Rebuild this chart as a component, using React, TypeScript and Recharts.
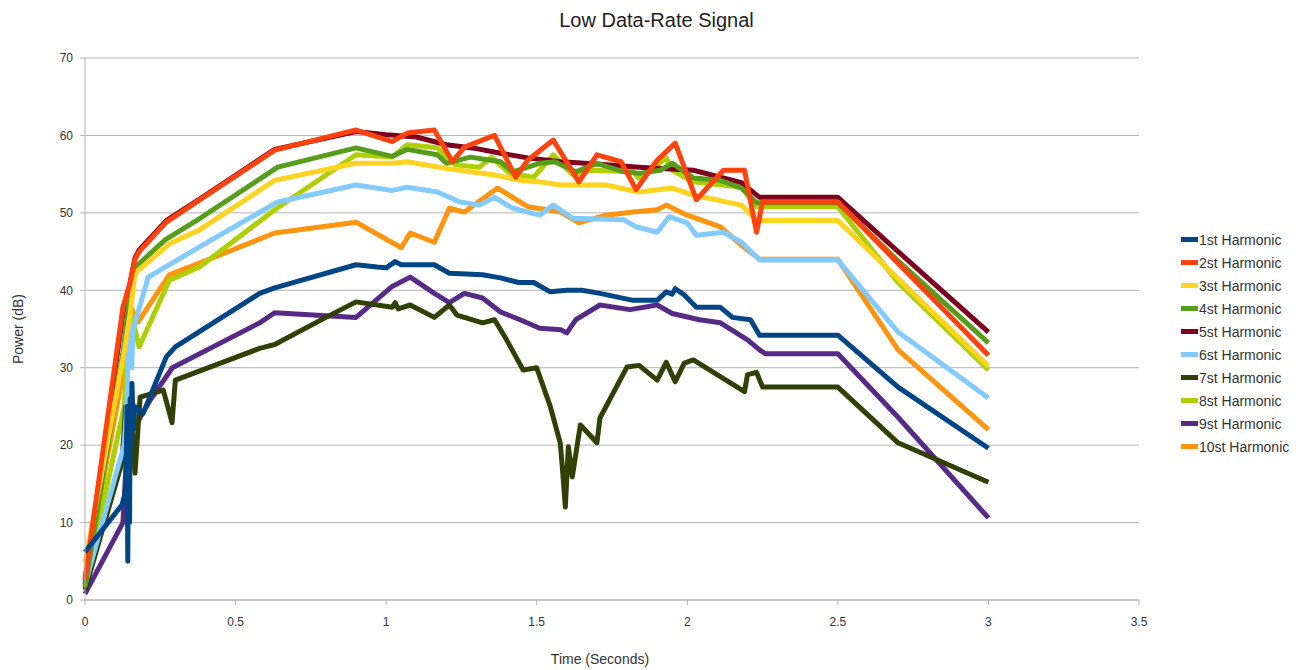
import React from 'react';
import { LineChart, Line, XAxis, YAxis, CartesianGrid, Legend } from 'recharts';

type Pt = [number, number];

// [time (s), power (dB)] samples for each harmonic
const harmonic1: Pt[] = [
  [0, 6.2], [0.123, 12.3], [0.135, 14], [0.14, 25], [0.142, 5], [0.145, 24], [0.148, 10], [0.15, 26],
  [0.153, 20], [0.156, 28], [0.16, 22], [0.165, 25], [0.193, 24.1], [0.27, 31.4], [0.3, 32.7],
  [0.58, 39.6], [0.63, 40.3], [0.9, 43.3], [0.97, 43], [1.0, 42.9], [1.03, 43.7], [1.05, 43.3],
  [1.16, 43.3], [1.21, 42.2], [1.32, 42], [1.38, 41.6], [1.44, 41], [1.49, 41], [1.545, 39.8],
  [1.6, 40], [1.65, 40], [1.71, 39.6], [1.82, 38.7], [1.9, 38.7], [1.93, 39.8], [1.95, 39.5],
  [1.96, 40.2], [1.99, 39.4], [2.03, 37.8], [2.11, 37.8], [2.15, 36.5], [2.21, 36.2], [2.24, 34.2],
  [2.5, 34.2], [2.7, 27.5], [3.0, 19.6],
];
const harmonic2: Pt[] = [
  [0, 2.6], [0.126, 37.8], [0.15, 41], [0.166, 44], [0.18, 45], [0.27, 48.8], [0.382, 51.7],
  [0.63, 58.1], [0.9, 60.7], [1.02, 59.2], [1.07, 60.3], [1.16, 60.7], [1.22, 56.6], [1.26, 58.5],
  [1.36, 60], [1.43, 54.6], [1.47, 56.8], [1.555, 59.4], [1.64, 54], [1.7, 57.5], [1.78, 56.6],
  [1.83, 53], [1.9, 56.8], [1.96, 59], [2.03, 51.7], [2.12, 55.5], [2.19, 55.5], [2.23, 47.5],
  [2.25, 51.4], [2.5, 51.4], [2.7, 43.5], [3.0, 31.6],
];
const harmonic3: Pt[] = [
  [0, 4.8], [0.13, 32], [0.15, 37], [0.166, 42.2], [0.28, 46], [0.38, 47.8], [0.63, 54.2],
  [0.9, 56.4], [1.02, 56.4], [1.07, 56.6], [1.19, 55.8], [1.36, 54.9], [1.445, 54.2], [1.51, 54],
  [1.58, 53.6], [1.73, 53.6], [1.84, 52.7], [1.95, 53.2], [2.02, 52.3], [2.18, 51], [2.23, 49],
  [2.5, 49], [2.7, 41.5], [3.0, 30.2],
];
const harmonic4: Pt[] = [
  [0, 1.7], [0.13, 33], [0.15, 40], [0.176, 43.3], [0.266, 46.5], [0.382, 49.3], [0.64, 55.9],
  [0.9, 58.4], [1.02, 57.3], [1.07, 58.2], [1.17, 57.5], [1.2, 56.4], [1.28, 57.2], [1.38, 56.6],
  [1.42, 55.3], [1.51, 56.4], [1.56, 56.6], [1.63, 55.3], [1.7, 56.4], [1.79, 55.3], [1.84, 55.1],
  [1.91, 55.5], [1.95, 56.4], [2.02, 54.5], [2.11, 54.2], [2.18, 53.2], [2.23, 51.3], [2.5, 51.3],
  [2.7, 43.8], [3.0, 33.2],
];
const harmonic5: Pt[] = [
  [0, 2], [0.126, 37], [0.15, 41], [0.166, 44.2], [0.18, 45.2], [0.27, 49], [0.382, 51.8],
  [0.63, 58.2], [0.9, 60.5], [1.0, 60.1], [1.1, 59.8], [1.2, 58.8], [1.3, 58.3], [1.38, 57.7],
  [1.47, 57.1], [1.58, 56.6], [1.7, 56.3], [1.84, 55.9], [2.02, 55.5], [2.18, 53.9], [2.24, 52],
  [2.5, 52], [2.7, 45], [3.0, 34.6],
];
const harmonic6: Pt[] = [
  [0, 2], [0.13, 20], [0.14, 25.8], [0.145, 37.5], [0.155, 30], [0.16, 35], [0.21, 41.7],
  [0.38, 45.6], [0.64, 51.4], [0.9, 53.6], [1.02, 52.9], [1.07, 53.3], [1.17, 52.7], [1.245, 51.4],
  [1.31, 51], [1.36, 52], [1.42, 50.6], [1.51, 49.7], [1.555, 51], [1.62, 49.3], [1.79, 49.1],
  [1.83, 48.2], [1.9, 47.5], [1.94, 49.5], [2.0, 48.7], [2.03, 47.1], [2.12, 47.5], [2.18, 46.2],
  [2.24, 43.9], [2.5, 43.9], [2.7, 34.6], [3.0, 26.1],
];
const harmonic7: Pt[] = [
  [0, 1.3], [0.123, 17.8], [0.135, 25], [0.145, 18], [0.15, 26], [0.166, 16.4], [0.183, 26.2],
  [0.26, 27.1], [0.289, 22.9], [0.3, 28.4], [0.58, 32.5], [0.63, 33], [0.8, 36.5], [0.9, 38.5],
  [1.02, 37.8], [1.03, 38.4], [1.04, 37.6], [1.08, 38.1], [1.16, 36.5], [1.21, 38.1], [1.235, 36.8],
  [1.32, 35.8], [1.36, 36.2], [1.4, 33.6], [1.455, 29.7], [1.5, 30], [1.545, 25], [1.578, 20.3],
  [1.585, 17.2], [1.595, 12], [1.605, 19.8], [1.618, 15.9], [1.645, 22.6], [1.7, 20.3], [1.71, 23.5],
  [1.8, 30.1], [1.84, 30.3], [1.9, 28.4], [1.93, 30.7], [1.96, 28.2], [1.99, 30.6], [2.02, 31],
  [2.19, 26.9], [2.2, 29.1], [2.23, 29.4], [2.25, 27.5], [2.5, 27.5], [2.7, 20.3], [3.0, 15.2],
];
const harmonic8: Pt[] = [
  [0, 1.5], [0.13, 25], [0.15, 37.5], [0.18, 32.7], [0.28, 41.3], [0.38, 43], [0.63, 50.4],
  [0.9, 57.5], [1.02, 57.2], [1.07, 58.8], [1.17, 58.4], [1.23, 56.2], [1.31, 55.9], [1.35, 57.2],
  [1.41, 55.1], [1.49, 54.6], [1.555, 57.5], [1.62, 54.9], [1.68, 55.5], [1.82, 55.3], [1.84, 54.5],
  [1.93, 57.1], [1.95, 55.5], [2.02, 54], [2.18, 53.3], [2.23, 50.8], [2.5, 50.8], [2.7, 41],
  [3.0, 29.7],
];
const harmonic9: Pt[] = [
  [0, 0.8], [0.126, 10], [0.14, 20], [0.15, 24], [0.16, 22], [0.216, 25.8], [0.29, 30],
  [0.58, 35.8], [0.63, 37.1], [0.9, 36.5], [1.02, 40.5], [1.08, 41.7], [1.16, 39.6], [1.21, 38.4],
  [1.26, 39.6], [1.32, 39], [1.38, 37.2], [1.445, 36.2], [1.51, 35.1], [1.58, 34.9], [1.6, 34.5],
  [1.63, 36.2], [1.71, 38.1], [1.81, 37.5], [1.9, 38.1], [1.95, 37], [2.04, 36.2], [2.11, 35.8],
  [2.2, 33.6], [2.24, 32.3], [2.26, 31.8], [2.5, 31.8], [2.7, 23.6], [3.0, 10.6],
];
const harmonic10: Pt[] = [
  [0, 3], [0.13, 30], [0.15, 38], [0.176, 35.9], [0.28, 42], [0.38, 43.5], [0.63, 47.4],
  [0.9, 48.8], [1.05, 45.5], [1.08, 47.4], [1.16, 46.2], [1.21, 50.6], [1.26, 50.1], [1.37, 53.2],
  [1.47, 50.8], [1.58, 50.1], [1.64, 48.7], [1.73, 49.7], [1.82, 50.1], [1.9, 50.4], [1.93, 51],
  [2.0, 49.7], [2.11, 48.2], [2.18, 45.8], [2.24, 44], [2.5, 44], [2.7, 32.3], [3.0, 22],
];

const seriesNames = [
  '1st Harmonic', '2st Harmonic', '3st Harmonic', '4st Harmonic', '5st Harmonic',
  '6st Harmonic', '7st Harmonic', '8st Harmonic', '9st Harmonic', '10st Harmonic',
];
const seriesColors = [
  '#004586', '#ff420e', '#ffd320', '#579d1c', '#7e0021',
  '#83caff', '#314004', '#aecf00', '#572a86', '#ff950e',
];
const xTicks = [0, 0.5, 1, 1.5, 2, 2.5, 3, 3.5];
const yTicks = [0, 10, 20, 30, 40, 50, 60, 70];

const FONT = '"Liberation Sans", Arial, sans-serif';

const series = [
  harmonic1, harmonic2, harmonic3, harmonic4, harmonic5,
  harmonic6, harmonic7, harmonic8, harmonic9, harmonic10,
].map((pts, i) => ({
  name: seriesNames[i],
  color: seriesColors[i],
  data: pts.map(([t, p]) => ({ t, p })),
}));

// later harmonics are painted first so the 1st harmonic ends up on top
const drawOrder = [...series].reverse();

const renderLegend = () => (
  <div style={{ fontFamily: FONT, fontSize: 14, color: '#333' }}>
    {series.map((s) => (
      <div key={s.name} style={{ display: 'flex', alignItems: 'center', height: 23 }}>
        <span style={{ display: 'inline-block', width: 17, height: 5, background: s.color, marginRight: 1 }} />
        <span>{s.name}</span>
      </div>
    ))}
  </div>
);

export default function App() {
  return (
    <div style={{ position: 'absolute', left: 0, top: 0, width: 1305, height: 670, background: '#fff' }}>
      <div
        style={{
          position: 'absolute', left: 4, top: 9, width: 1305, textAlign: 'center',
          fontFamily: FONT, fontSize: 20, color: '#222',
        }}
      >
        Low Data-Rate Signal
      </div>
      <LineChart width={1305} height={670} margin={{ top: 58, right: 166, bottom: 4, left: 5 }}>
        <CartesianGrid vertical={false} stroke="#b3b3b3" strokeWidth={1} />
        <XAxis
          type="number"
          dataKey="t"
          domain={[0, 3.5]}
          ticks={xTicks}
          height={66}
          tickSize={5}
          tickMargin={12}
          stroke="#b3b3b3"
          tick={{ fill: '#333', fontSize: 12, fontFamily: FONT }}
          label={{
            value: 'Time (Seconds)', position: 'insideBottom', offset: 2, dx: -12,
            style: { fill: '#333', fontSize: 14, fontFamily: FONT },
          }}
        />
        <YAxis
          type="number"
          domain={[0, 70]}
          ticks={yTicks}
          width={80}
          tickSize={5}
          tickMargin={7}
          stroke="#b3b3b3"
          tick={{ fill: '#333', fontSize: 12, fontFamily: FONT }}
          label={{
            value: 'Power (dB)', angle: -90, position: 'insideLeft', offset: 13,
            style: { fill: '#333', fontSize: 14, fontFamily: FONT, textAnchor: 'middle' },
          }}
        />
        <Legend
          layout="vertical"
          align="center"
          verticalAlign="middle"
          content={renderLegend}
          wrapperStyle={{ left: 1181, top: 228, width: 124 }}
        />
        {drawOrder.map((s) => (
          <Line
            key={s.name}
            data={s.data}
            dataKey="p"
            name={s.name}
            type="linear"
            stroke={s.color}
            strokeWidth={5}
            strokeLinejoin="round"
            dot={false}
            activeDot={false}
            isAnimationActive={false}
          />
        ))}
      </LineChart>
    </div>
  );
}
